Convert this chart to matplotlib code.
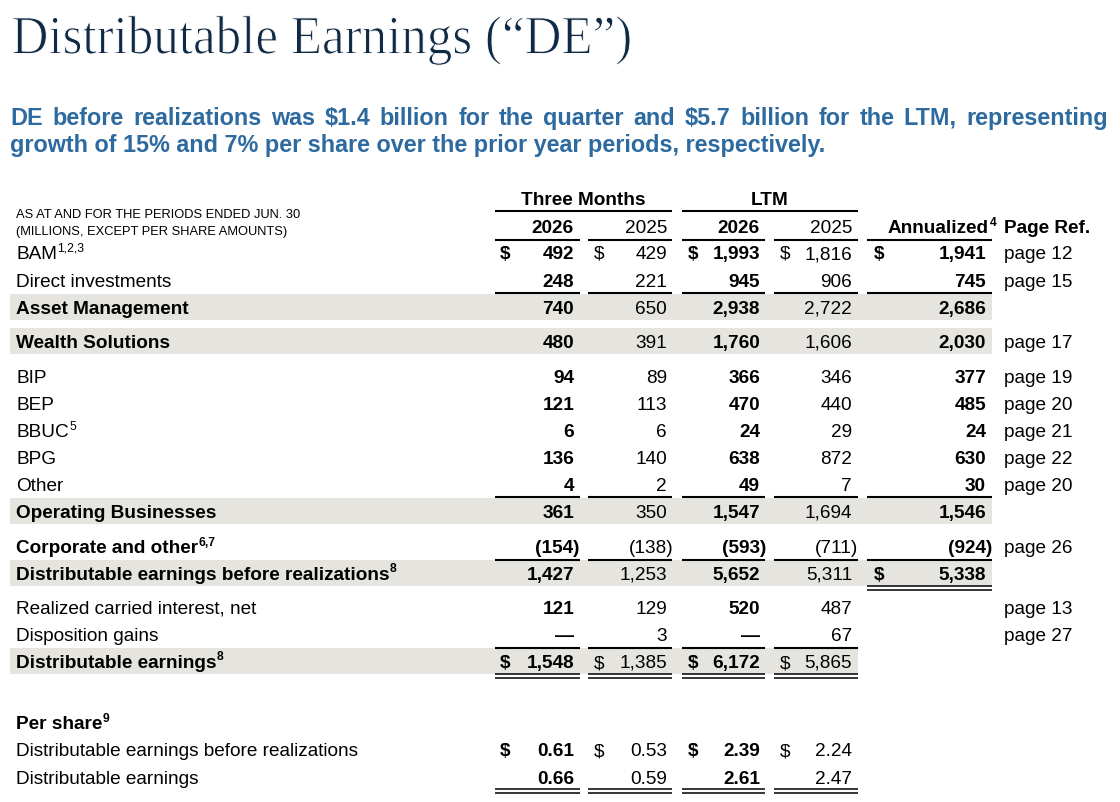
import matplotlib
matplotlib.use("Agg")
import matplotlib.pyplot as plt
from matplotlib.patches import Rectangle, PathPatch
from matplotlib.textpath import TextPath
from matplotlib.font_manager import FontProperties
from matplotlib.transforms import Affine2D

plt.rcParams['font.family'] = ['Liberation Sans', 'DejaVu Sans']

title = "Distributable Earnings (“DE”)"
subtitle_lines = [
    "DE before realizations was $1.4 billion for the quarter and $5.7 billion for the LTM, representing",
    "growth of 15% and 7% per share over the prior year periods, respectively.",
]
header_note = ["AS AT AND FOR THE PERIODS ENDED JUN. 30", "(MILLIONS, EXCEPT PER SHARE AMOUNTS)"]
group_heads = ["Three Months", "LTM"]
year_heads = ["2026", "2025", "2026", "2025"]

labels = ["BAM", "Direct investments", "Asset Management", "Wealth Solutions",
          "BIP", "BEP", "BBUC", "BPG", "Other", "Operating Businesses",
          "Corporate and other", "Distributable earnings before realizations",
          "Realized carried interest, net", "Disposition gains", "Distributable earnings"]
footnotes = ["1,2,3", "", "", "", "", "", "5", "", "", "", "6,7", "8", "", "", "8"]
# None = nil (dash)
tm_2026 = [492, 248, 740, 480, 94, 121, 6, 136, 4, 361, -154, 1427, 121, None, 1548]
tm_2025 = [429, 221, 650, 391, 89, 113, 6, 140, 2, 350, -138, 1253, 129, 3, 1385]
ltm_2026 = [1993, 945, 2938, 1760, 366, 470, 24, 638, 49, 1547, -593, 5652, 520, None, 6172]
ltm_2025 = [1816, 906, 2722, 1606, 346, 440, 29, 872, 7, 1694, -711, 5311, 487, 67, 5865]
# None = blank
annualized = [1941, 745, 2686, 2030, 377, 485, 24, 630, 30, 1546, -924, 5338, None, None, None]
page_refs = ["page 12", "page 15", "", "page 17", "page 19", "page 20", "page 21",
             "page 22", "page 20", "", "page 26", "", "page 13", "page 27", ""]

per_share_labels = ["Distributable earnings before realizations", "Distributable earnings"]
ps_tm_2026 = [0.61, 0.66]
ps_tm_2025 = [0.53, 0.59]
ps_ltm_2026 = [2.39, 2.61]
ps_ltm_2025 = [2.24, 2.47]

# layout (pixels)
row_y = [252, 280, 307, 341, 376, 403, 430, 457, 484, 511, 546, 573, 607, 634, 661]
bold_rows = {2, 3, 9, 10, 11, 14}
shade_rows = {2: 992, 3: 992, 9: 992, 11: 992, 14: 858}
col_right = [574, 667, 760, 852, 986]
col_dollar = [500, 594, 688, 780, 874]
col_bold = [True, False, True, False, True]
seg = [(495, 580), (588, 672), (682, 765), (774, 858), (867, 992)]
SHADE = '#e5e4df'
BODY = 13.7
DY = 2.5  # matplotlib centres on the line box, nudge to the cap centre

fig = plt.figure(figsize=(11.2, 8.02), dpi=100)
ax = fig.add_axes([0, 0, 1, 1])
ax.set_xlim(0, 1120)
ax.set_ylim(802, 0)
ax.axis('off')
renderer = fig.canvas.get_renderer()


def put(x, y, s, size=BODY, bold=False, ha='left', color='black', **kw):
    return ax.text(x, y + DY, s.replace('$', r'\$'), fontsize=size,
                   fontweight='bold' if bold else 'normal', ha=ha, va='center',
                   color=color, zorder=3, **kw)


def put_sup(x, y, s, sup, size=BODY, bold=False):
    t = put(x, y, s, size, bold)
    if sup:
        x1 = t.get_window_extent(renderer).x1
        put(x1 + 0.5, y - 6, sup, size * 0.64, bold)
    return t


def fmt(v, decimals=0):
    if v is None:
        return "—"
    s = f"{abs(v):,.{decimals}f}"
    return f"({s})" if v < 0 else s


def hline(y, cols, lw=1.5):
    for c in cols:
        ax.plot(seg[c], [y, y], color='black', lw=lw, solid_capstyle='butt', zorder=2)


def dline(y, cols):
    hline(y - 2, cols, 1.1)
    hline(y + 2, cols, 1.1)


# title: serif, slightly condensed and thinned (white edge) to look like a light face
tp = TextPath((0, 0), title, size=54.4, prop=FontProperties(family='Liberation Serif'))
ext = tp.get_extents()
sx = (630 - 13) / ext.width
tpath = Affine2D().scale(sx, -1).translate(13 - ext.x0 * sx, 53.5).transform_path(tp)
ax.add_patch(PathPatch(tpath, facecolor='#102a45', edgecolor='white', lw=0.7, zorder=3))

# subtitle, first line justified
SUB = '#2d6a9f'
words = subtitle_lines[0].split(' ')
ts = [put(0, 116, w, 16.8, True, color=SUB) for w in words]
ws = [t.get_window_extent(renderer).width for t in ts]
gap = (1108 - 10 - sum(ws)) / (len(words) - 1)
x = 10
for t, w in zip(ts, ws):
    t.set_x(x)
    x += w + gap
put(10, 143, subtitle_lines[1], 16.8, True, color=SUB)

# header
put(16, 213, header_note[0], 9.3)
put(16, 229, header_note[1], 9.3)
put((seg[0][0] + seg[1][1]) / 2, 198, group_heads[0], BODY, True, ha='center')
put((seg[2][0] + seg[3][1]) / 2, 198, group_heads[1], BODY, True, ha='center')
ax.plot([seg[0][0], seg[1][1]], [211, 211], color='black', lw=1.5, solid_capstyle='butt')
ax.plot([seg[2][0], seg[3][1]], [211, 211], color='black', lw=1.5, solid_capstyle='butt')
for i, yh in enumerate(year_heads):
    put(col_right[i], 226, yh, BODY, col_bold[i], ha='right')
t = put(col_right[4] + 3, 226, "Annualized", BODY, True, ha='right')
put(t.get_window_extent(renderer).x1 + 0.5, 220, "4", BODY * 0.64, True)
put(1004, 226, "Page Ref.", BODY, True)
hline(240, range(5))

# shaded rows
for r, right in shade_rows.items():
    ax.add_patch(Rectangle((10, row_y[r] - 13), right - 10, 26, color=SHADE, lw=0, zorder=0))

# body rows
cols = [tm_2026, tm_2025, ltm_2026, ltm_2025, annualized]
dollar_rows = {0: [0, 1, 2, 3, 4], 11: [4], 14: [0, 1, 2, 3]}
for r, y in enumerate(row_y):
    put_sup(16, y, labels[r], footnotes[r], BODY, r in bold_rows)
    for c, vals in enumerate(cols):
        v = vals[r]
        if v is None and c == 4:
            continue
        xr = col_right[c] + (6 if (v is not None and v < 0) else 0)
        put(xr, y, fmt(v), BODY, col_bold[c], ha='right')
    for c in dollar_rows.get(r, []):
        put(col_dollar[c], y, "$", BODY, col_bold[c])
    if page_refs[r]:
        put(1004, y, page_refs[r], BODY)

hline(293, range(5))
hline(497, range(5))
hline(560, range(5))
dline(588, [4])
hline(648, range(4))
dline(676, range(4))

# per share
put_sup(16, 722, "Per share", "9", BODY, True)
ps_cols = [ps_tm_2026, ps_tm_2025, ps_ltm_2026, ps_ltm_2025]
for r, y in enumerate([749, 777]):
    put(16, y, per_share_labels[r], BODY)
    for c, vals in enumerate(ps_cols):
        put(col_right[c], y, fmt(vals[r], 2), BODY, col_bold[c], ha='right')
        if r == 0:
            put(col_dollar[c], y, "$", BODY, col_bold[c])
dline(791, range(4))

fig.savefig("out.png", dpi=100)
